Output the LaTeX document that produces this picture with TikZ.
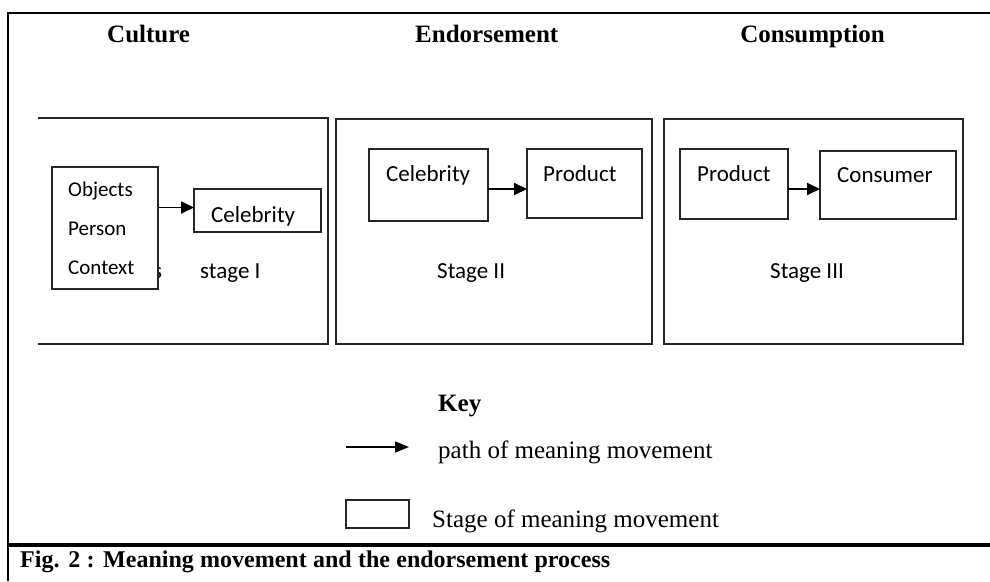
\documentclass[tikz,border=0pt]{standalone}
\usepackage{fontspec}
\setmainfont{Liberation Serif}
\newfontfamily\carlfont{Carlito}
\usetikzlibrary{arrows.meta}
\begin{document}
\begin{tikzpicture}[x=1pt,y=-1pt,
  stagebox/.style={draw=black!85, line width=1.4pt},
  innerbox/.style={draw=black!85, line width=1.2pt, fill=white, inner sep=0pt, outer sep=0pt, anchor=north west},
  head/.style={font=\fontsize{25}{25}\selectfont\bfseries, anchor=base west, inner sep=0pt},
  lbl/.style={font=\fontsize{23}{23}\carlfont, anchor=base west, inner sep=0pt},
  lbls/.style={font=\fontsize{21}{21}\carlfont, anchor=base west, inner sep=0pt},
  keytxt/.style={font=\fontsize{25}{25}\selectfont, anchor=base west, inner sep=0pt},
  arr/.style={draw=black, line width=1.8pt, -{Triangle[length=13pt,width=12pt]}},
]
\useasboundingbox (0,0) rectangle (990,581);
% outer frame
\draw[line width=2.6pt] (990,13) -- (8,13) -- (8,581);
\draw[line width=3.6pt] (8,545) -- (990,545);
% headings
\node[head] (hcult) at (107,42) {Culture};
\node[head] (hend) at (415,42) {Endorsement};
\node[head, anchor=base east] (hcons) at (885,42) {Consumption};
% stage boxes
\draw[stagebox] (38,118) -- (328,118) -- (328,344) -- (38,344);
\draw[stagebox] (336,119) rectangle (652,344);
\draw[stagebox] (664,119) rectangle (963,344);
% stage I
\node[lbl] (hidden) at (153,278) {s};
\node[lbl] (st1) at (200,278) {stage I};
\node[innerbox, minimum width=106pt, minimum height=122pt] (obj) at (52,167) {};
\node[lbls] (t1) at (68,196) {Objects};
\node[lbls] (t2) at (68,235) {Person};
\node[lbls] (t3) at (68,274) {Context};
\node[innerbox, minimum width=127pt, minimum height=43pt] (cel1) at (194,189) {};
\node[lbl] (cel1t) at (211,222) {Celebrity};
\draw[arr] (obj.east |- cel1.west) ++(0,-3) coordinate (a1s) -- (a1s -| cel1.west);
% stage II
\node[innerbox, minimum width=119pt, minimum height=72pt] (cel2) at (369,149) {};
\node[lbl] (cel2t) at (386,181) {Celebrity};
\node[innerbox, minimum width=115pt, minimum height=69pt] (prod2) at (527,149) {};
\node[lbl] (prod2t) at (543,181) {Product};
\draw[arr] (cel2.east) ++(0,4) coordinate (a2s) -- (a2s -| prod2.west);
\node[lbl] (st2) at (437,278) {Stage II};
% stage III
\node[innerbox, minimum width=108pt, minimum height=70pt] (prod3) at (680,149) {};
\node[lbl] (prod3t) at (697,181) {Product};
\node[innerbox, minimum width=136pt, minimum height=68pt] (cons3) at (820,151) {};
\node[lbl] (cons3t) at (837,182) {Consumer};
\draw[arr] (prod3.east) ++(0,5) coordinate (a3s) -- (a3s -| cons3.west);
\node[lbl] (st3) at (770,278) {Stage III};
% key
\node[head] (key) at (438,411) {Key};
\coordinate (ka) at (346,447);
\coordinate (kb) at (409,447);
\draw[draw=black, line width=1.6pt, -{Triangle[length=14pt,width=11pt]}] (ka) -- (kb);
\node[keytxt] (kt1) at (438,458) {path of meaning movement};
\node[innerbox, minimum width=63pt, minimum height=28pt] (kbox) at (346,500) {};
\node[keytxt] (kt2) at (432,527) {Stage of meaning movement};
% caption
\node[anchor=base west, inner sep=0pt, font=\fontsize{24}{24}\selectfont\bfseries] (cap) at (20,567) {\makebox[590pt][s]{Fig. 2 : Meaning movement and the endorsement process}};
\end{tikzpicture}
\end{document}
